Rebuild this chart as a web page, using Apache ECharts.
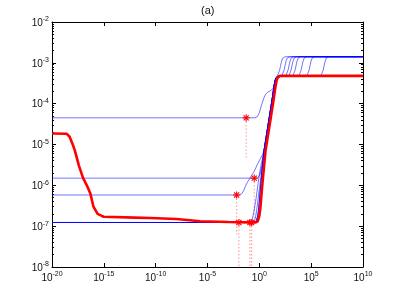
<!DOCTYPE html>
<html><head><meta charset="utf-8">
<script src="https://cdn.jsdelivr.net/npm/echarts@6/dist/echarts.min.js"></script>
<style>html,body{margin:0;padding:0;background:#fff}#c{width:401px;height:301px}</style>
</head><body><div id="c"></div><script>
// ---- tick labels (exponents of 10) ----
const xTickExp = [-20, -15, -10, -5, 0, 5, 10];
const yTickExp = [-8, -7, -6, -5, -4, -3, -2];

// ---- red curve ----
const redX = [1e-20, 2.5e-19, 5e-19, 1e-18, 1.58e-18, 4e-18, 1e-17, 2.5e-17, 5e-17, 1e-16, 2.5e-16, 6.3e-16, 1e-15, 1e-12, 3.16e-11, 1e-8, 2e-6, 1e-3, 0.1, 0.446, 0.705, 1.0, 1.26, 1.58, 1.99, 2.82, 3.98, 7.06, 12.6, 22.3, 35.4, 44.6, 56.1, 70.6, 99.8, 1e10];
const redY = [1.86e-5, 1.84e-5, 1.55e-5, 1.0e-5, 7.2e-6, 3.0e-6, 1.5e-6, 9.5e-7, 6.3e-7, 3.0e-7, 2.0e-7, 1.78e-7, 1.7e-7, 1.62e-7, 1.58e-7, 1.5e-7, 1.32e-7, 1.26e-7, 1.24e-7, 1.24e-7, 1.32e-7, 1.78e-7, 2.82e-7, 5.62e-7, 1.12e-6, 2.82e-6, 7.08e-6, 1.78e-5, 4.47e-5, 1.12e-4, 2.51e-4, 3.55e-4, 4.27e-4, 4.68e-4, 4.8e-4, 4.8e-4];

// ---- blue curves: lower part (head) ----
const blueHead1X = [1e-20, 0.38, 0.63, 1.0, 1.58, 2.51, 3.98, 6.31, 12.6, 20, 25.1, 31.6, 39.8, 50.1];
const blueHead1Y = [4.5e-5, 4.5e-5, 4.8e-5, 6.0e-5, 9.0e-5, 1.3e-4, 1.7e-4, 1.9e-4, 2.1e-4, 2.3e-4, 2.6e-4, 3.55e-4, 4.27e-4, 4.68e-4];
const blueHead2X = [1e-20, 0.63, 0.89, 1.12, 1.41, 2.0, 2.82, 5.01, 8.91, 15.8, 25.1, 31.6, 39.8, 50.1, 70.8];
const blueHead2Y = [1.5e-6, 1.5e-6, 1.55e-6, 1.8e-6, 2.3e-6, 3.5e-6, 7.08e-6, 1.78e-5, 4.47e-5, 1.12e-4, 2.51e-4, 3.55e-4, 4.27e-4, 4.68e-4, 4.85e-4];
const blueHead3X = [1e-20, 0.0126, 0.02, 0.0316, 0.05, 0.079, 0.126, 0.316, 0.63, 1.26, 2.0, 2.82, 5.01, 8.91, 15.8, 25.1, 31.6, 39.8, 50.1, 70.8];
const blueHead3Y = [5.8e-7, 5.8e-7, 6.2e-7, 7.5e-7, 1.0e-6, 1.25e-6, 1.5e-6, 2.2e-6, 3.2e-6, 4.5e-6, 5.6e-6, 7.08e-6, 1.78e-5, 4.47e-5, 1.12e-4, 2.51e-4, 3.55e-4, 4.27e-4, 4.68e-4, 4.85e-4];
const blueHead4X = [1e-20, 0.1, 0.2, 0.32, 0.5, 0.79, 1.26, 2.0, 2.82, 5.01, 8.91, 15.8, 25.1, 31.6, 39.8, 50.1, 70.8];
const blueHead4Y = [1.23e-7, 1.23e-7, 1.4e-7, 2.5e-7, 5.0e-7, 1.2e-6, 2.6e-6, 4.5e-6, 7.08e-6, 1.78e-5, 4.47e-5, 1.12e-4, 2.51e-4, 3.55e-4, 4.27e-4, 4.68e-4, 4.85e-4];
const blueHead5X = [1e-20, 0.25, 0.4, 0.56, 0.79, 1.12, 1.58, 2.0, 2.82, 5.01, 8.91, 15.8, 25.1, 31.6, 39.8, 50.1, 70.8];
const blueHead5Y = [1.23e-7, 1.23e-7, 1.5e-7, 2.5e-7, 5.0e-7, 1.0e-6, 2.0e-6, 3.2e-6, 7.08e-6, 1.78e-5, 4.47e-5, 1.12e-4, 2.51e-4, 3.55e-4, 4.27e-4, 4.68e-4, 4.85e-4];
const blueMainX = [1e-20, 0.316, 0.5, 0.708, 0.891, 1.12, 1.41, 2.0, 2.82, 5.01, 8.91, 15.8, 25.1, 31.6, 39.8, 50.1, 70.8];
const blueMainY = [1.23e-7, 1.23e-7, 1.32e-7, 1.78e-7, 2.82e-7, 5.62e-7, 1.12e-6, 2.82e-6, 7.08e-6, 1.78e-5, 4.47e-5, 1.12e-4, 2.51e-4, 3.55e-4, 4.27e-4, 4.68e-4, 4.85e-4];

// ---- blue curves: upper step (plateau 4.85e-4 -> 1.41e-3) ----
const stepY = [4.85e-4, 5.3e-4, 6.5e-4, 8.5e-4, 1.1e-3, 1.3e-3, 1.38e-3, 1.41e-3, 1.41e-3];
const step1X = [56.2, 70.8, 89.1, 112, 141, 178, 224, 316, 1e10];
const step2X = [151, 190, 240, 302, 380, 479, 603, 851, 1e10];
const step3X = [363, 457, 575, 724, 912, 1148, 1445, 2042, 1e10];
const step4X = [708, 891, 1122, 1413, 1778, 2239, 2818, 3981, 1e10];
const step5X = [1738, 2188, 2754, 3467, 4365, 5495, 6918, 9772, 1e10];
const step6X = [6607, 8318, 10471, 13183, 16596, 20893, 26303, 37154, 1e10];
const step7X = [38905, 48978, 61660, 77625, 97724, 123027, 154882, 218776, 1e10];
const step8X = [8.91e5, 1.122e6, 1.413e6, 1.778e6, 2.239e6, 2.818e6, 3.548e6, 5.012e6, 1e10];

// ---- red stars and dotted drops ----
const starX = [0.0537, 0.324, 0.00646, 0.0107, 0.123, 0.182];
const starY = [4.5e-5, 1.5e-6, 5.8e-7, 1.23e-7, 1.23e-7, 1.23e-7];
const dotEndY = [4.2e-6, 1.25e-7, 6.3e-8, 1.05e-8, 1.05e-8, 1.05e-8];

// ---------------------------------------------------------------
const pairs = (xs, ys) => xs.map((x, i) => [x, ys[i]]);
const blueDefs = [
  [blueHead1X, blueHead1Y, step1X],
  [blueHead2X, blueHead2Y, step2X],
  [blueHead3X, blueHead3Y, step3X],
  [blueHead4X, blueHead4Y, step4X],
  [blueHead5X, blueHead5Y, step5X],
  [blueMainX, blueMainY, step6X],
  [blueMainX, blueMainY, step7X],
  [blueMainX, blueMainY, step8X]
];
const FONT = '"Liberation Sans", Arial, Helvetica, sans-serif';
const TXT = '#111';
const rich = {
  b: { fontSize: 10, fontFamily: FONT, color: TXT, lineHeight: 12, verticalAlign: 'bottom' },
  s: { fontSize: 7, fontFamily: FONT, color: TXT, lineHeight: 8, verticalAlign: 'bottom', padding: [0, 0, 5, 0] }
};
const fmt = v => '{b|10}{s|' + Math.round(Math.log10(v)) + '}';
const xTicks = xTickExp.map(e => Math.pow(10, e));
const yTicks = yTickExp.map(e => Math.pow(10, e));
const yMinor = [];
for (let e = -8; e < -2; e++) for (let k = 2; k <= 9; k++) yMinor.push(k * Math.pow(10, e));

const xBase = { type: 'log', logBase: 10, min: 1e-20, max: 1e10, splitLine: { show: false } };
const yBase = { type: 'log', logBase: 10, min: 1e-8, max: 1e-2, splitLine: { show: false } };
const lineStyleAx = { color: '#000', width: 1 };

const series = [];
blueDefs.forEach(d => {
  series.push({
    type: 'line', data: pairs(d[0], d[1]).concat(pairs(d[2], stepY)),
    symbol: 'none', lineStyle: { color: '#0000ff', width: 1, opacity: 0.55 }, z: 2, silent: true
  });
});
series.push({
  type: 'line', data: pairs(redX, redY), symbol: 'none',
  lineStyle: { color: '#ff0000', width: 2.6 }, z: 3, silent: true
});
starX.forEach((x, i) => {
  series.push({
    type: 'line', data: [[x, starY[i]], [x, dotEndY[i]]], symbol: 'none',
    lineStyle: { color: '#ff0000', width: 1, type: [1.5, 2], opacity: 0.45 }, z: 1, silent: true
  });
});
series.push({
  type: 'custom', coordinateSystem: 'cartesian2d', z: 5, silent: true,
  data: pairs(starX, starY),
  renderItem: function (params, api) {
    const p = api.coord([api.value(0), api.value(1)]);
    const r = 3.6, d = r * 0.707;
    const segs = [[-r, 0, r, 0], [0, -r, 0, r], [-d, -d, d, d], [-d, d, d, -d]];
    return {
      type: 'group',
      children: segs.map(s => ({
        type: 'line',
        shape: { x1: p[0] + s[0], y1: p[1] + s[1], x2: p[0] + s[2], y2: p[1] + s[3] },
        style: { stroke: '#ff0000', lineWidth: 1.1 }
      }))
    };
  }
});

const chart = echarts.init(document.getElementById('c'), null, { renderer: 'canvas' });
chart.setOption({
  animation: false,
  backgroundColor: '#fff',
  title: {
    text: '(a)', left: 201, top: 5, padding: 0,
    textStyle: { fontSize: 11, fontWeight: 'normal', fontFamily: FONT, color: TXT }
  },
  grid: { left: 52, right: 38, top: 22, bottom: 34, containLabel: false, outerBoundsMode: 'none' },
  xAxis: [
    Object.assign({}, xBase, {
      position: 'bottom',
      axisLine: { show: true, lineStyle: lineStyleAx },
      axisTick: { show: true, inside: true, length: 4, customValues: xTicks, lineStyle: lineStyleAx },
      axisLabel: { show: true, customValues: xTicks, formatter: fmt, rich: rich, margin: 4 }
    }),
    Object.assign({}, xBase, {
      position: 'top',
      axisLine: { show: true, lineStyle: lineStyleAx },
      axisTick: { show: true, inside: true, length: 4, customValues: xTicks, lineStyle: lineStyleAx },
      axisLabel: { show: false }
    })
  ],
  yAxis: [
    Object.assign({}, yBase, {
      position: 'left',
      axisLine: { show: true, lineStyle: lineStyleAx },
      axisTick: { show: true, inside: true, length: 4, customValues: yTicks, lineStyle: lineStyleAx },
      axisLabel: { show: true, customValues: yTicks, formatter: fmt, rich: rich, margin: 3 }
    }),
    Object.assign({}, yBase, {
      position: 'right',
      axisLine: { show: true, lineStyle: lineStyleAx },
      axisTick: { show: true, inside: true, length: 4, customValues: yTicks, lineStyle: lineStyleAx },
      axisLabel: { show: false }
    }),
    Object.assign({}, yBase, {
      position: 'left',
      axisLine: { show: false },
      axisTick: { show: true, inside: true, length: 2, customValues: yMinor, lineStyle: lineStyleAx },
      axisLabel: { show: false }
    }),
    Object.assign({}, yBase, {
      position: 'right',
      axisLine: { show: false },
      axisTick: { show: true, inside: true, length: 2, customValues: yMinor, lineStyle: lineStyleAx },
      axisLabel: { show: false }
    })
  ],
  series: series
});
</script></body></html>
